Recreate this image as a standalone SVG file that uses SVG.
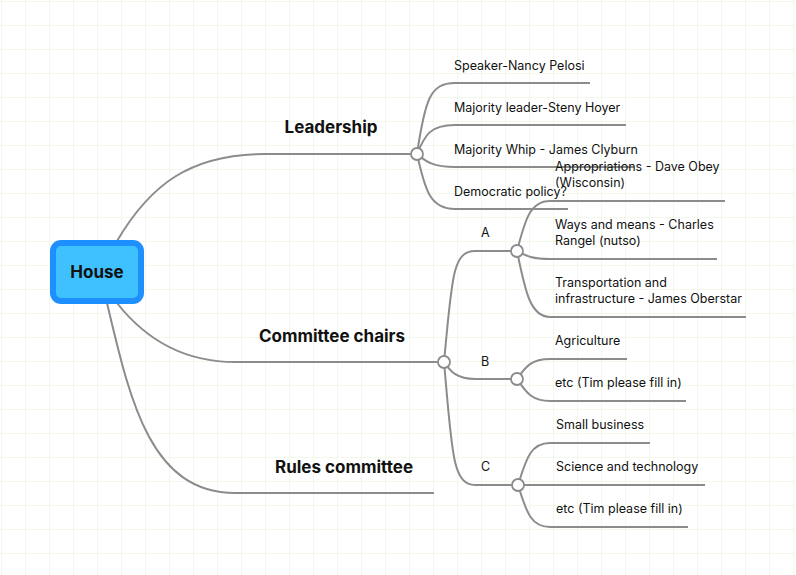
<svg xmlns="http://www.w3.org/2000/svg" width="796" height="575" viewBox="0 0 796 575">
<defs>
<pattern id="g" width="24" height="24" patternUnits="userSpaceOnUse" x="2" y="2">
<path d="M24 0V24H0" fill="none" stroke="#e6f1d8" stroke-width="1"/>
</pattern>
<style>
.c{fill:none;stroke:#8c8c8c;stroke-width:2}
.j{fill:#fff;stroke:#8c8c8c;stroke-width:1.8}
.b{font-family:Inter,"Liberation Sans",sans-serif;font-weight:bold;font-size:17px;fill:#111;text-anchor:middle}
.t{font-family:Inter,"Liberation Sans",sans-serif;font-size:12.5px;fill:#111}
</style>
</defs>
<rect width="796" height="575" fill="#fff"/>
<rect width="796" height="575" fill="url(#g)"/>
<g id="connectors">
<path class="c" d="M117 241C150 185 190 154 265 154H417"/>
<path class="c" d="M117 303C150 345 190 362 235 362H444"/>
<path class="c" d="M107 303C130 400 150 493 235 493H434"/>
<path class="c" d="M417 154C425 100 430 83 455 83H590"/>
<path class="c" d="M417 154C425 135 430 125 455 125H626"/>
<path class="c" d="M417 154C425 160 430 167 455 167H634"/>
<path class="c" d="M417 154C425 190 430 209 455 209H568"/>
<path class="c" d="M444 362C452 280 452 251 475 251H517"/>
<path class="c" d="M444 362C450 370 455 379 475 379H517"/>
<path class="c" d="M444 362C452 450 452 485 475 485H518"/>
<path class="c" d="M517 251C525 220 530 201 550 201H725"/>
<path class="c" d="M517 251C525 255 530 259 550 259H717"/>
<path class="c" d="M517 251C525 290 530 317 550 317H746"/>
<path class="c" d="M517 379C525 368 530 359 550 359H627"/>
<path class="c" d="M517 379C525 390 530 401 550 401H686"/>
<path class="c" d="M518 485C526 460 530 443 550 443H650"/>
<path class="c" d="M518 485H705"/>
<path class="c" d="M518 485C526 510 530 527 550 527H688"/>
</g>
<g id="house"><rect x="53" y="243" width="88" height="58" rx="8" fill="#3fc1ff" stroke="#1e8fff" stroke-width="6"/><text class="b" x="97" y="278">House</text></g>
<g id="leadership"><text class="b" x="331" y="133">Leadership</text><circle class="j" cx="417" cy="154" r="6"/></g>
<g id="committee"><text class="b" x="332" y="342">Committee chairs</text><circle class="j" cx="444" cy="362" r="6"/></g>
<g id="rules"><text class="b" x="344" y="473">Rules committee</text></g>
<g id="l1"><text class="t" x="454" y="70">Speaker-Nancy Pelosi</text></g>
<g id="l2"><text class="t" x="454" y="112">Majority leader-Steny Hoyer</text></g>
<g id="l3"><text class="t" x="454" y="154">Majority Whip - James Clyburn</text></g>
<g id="l4"><text class="t" x="454" y="196">Democratic policy?</text></g>
<g id="a"><text class="t" x="481" y="237">A</text><circle class="j" cx="517" cy="251" r="6"/></g>
<g id="b"><text class="t" x="481" y="366">B</text><circle class="j" cx="517" cy="379" r="6"/></g>
<g id="c"><text class="t" x="481" y="471">C</text><circle class="j" cx="518" cy="485" r="6"/></g>
<g id="a1"><text class="t" x="555" y="171">Appropriations - Dave Obey</text><text class="t" x="555" y="187">(Wisconsin)</text></g>
<g id="a2"><text class="t" x="555" y="229">Ways and means - Charles</text><text class="t" x="555" y="245">Rangel (nutso)</text></g>
<g id="a3"><text class="t" x="555" y="287">Transportation and</text><text class="t" x="555" y="303">infrastructure - James Oberstar</text></g>
<g id="b1"><text class="t" x="555" y="345">Agriculture</text></g>
<g id="b2"><text class="t" x="555" y="387">etc (Tim please fill in)</text></g>
<g id="c1"><text class="t" x="556" y="429">Small business</text></g>
<g id="c2"><text class="t" x="556" y="471">Science and technology</text></g>
<g id="c3"><text class="t" x="556" y="513">etc (Tim please fill in)</text></g>
</svg>
